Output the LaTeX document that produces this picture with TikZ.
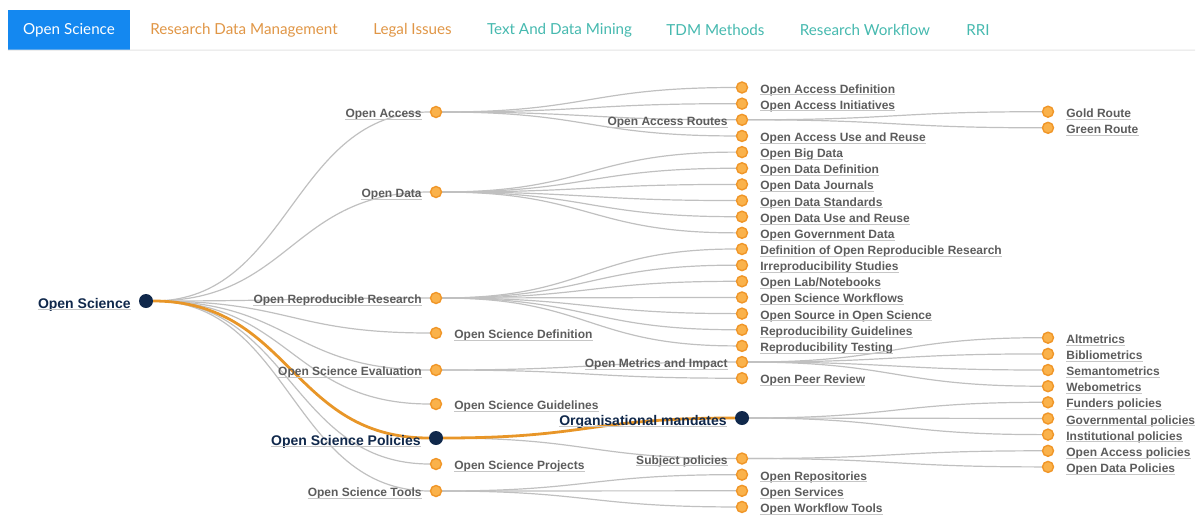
\documentclass[tikz,border=0pt]{standalone}
\usepackage{fontspec}
\setmainfont{Liberation Sans}
\newfontfamily\tabfont{Lato}
\usetikzlibrary{positioning,backgrounds}

\definecolor{tabblue}{RGB}{20,136,240}
\definecolor{taborange}{RGB}{224,150,70}
\definecolor{tabteal}{RGB}{70,185,175}
\definecolor{lblgray}{RGB}{92,92,92}
\definecolor{navy}{RGB}{16,40,75}
\definecolor{linkgray}{RGB}{192,192,192}
\definecolor{dotfill}{RGB}{250,178,75}
\definecolor{dotline}{RGB}{240,150,40}
\definecolor{hiorange}{RGB}{232,150,40}

\tikzset{
  dot/.style={circle, draw=dotline, fill=dotfill, line width=1.4pt, inner sep=0pt, minimum size=11pt},
  hub/.style={circle, fill=navy, inner sep=0pt, minimum size=14pt},
  undl/.style={draw=gray!45, line width=0.8pt},
  txt/.style={font=\bfseries\fontsize{12}{14}\selectfont, text=lblgray, inner xsep=0pt, inner ysep=0.5pt,
    text height=12pt, text depth=1pt,
    append after command={(\tikzlastnode.south west) edge[undl] (\tikzlastnode.south east)}},
  hubtxt/.style={txt, font=\bfseries\fontsize{14}{16}\selectfont, text=navy, text height=15pt},
  link/.style={draw=linkgray, line width=1.2pt},
  hilite/.style={draw=hiorange, line width=2.8pt},
  lone/.style={to path={(\tikztostart) .. controls +(145,0) and +(-145,0) .. (\tikztotarget)}},
  ltwo/.style={to path={(\tikztostart) .. controls +(153,0) and +(-153,0) .. (\tikztotarget)}},
  tabon/.style={fill=tabblue, text=white, font=\tabfont\fontsize{15.2}{17}\selectfont, minimum width=122pt, minimum height=40pt},
  tabtxt/.style={font=\tabfont\fontsize{15.2}{17}\selectfont}
}

\begin{document}
\begin{tikzpicture}[x=1pt, y=-1pt]
    \useasboundingbox (0,0) rectangle (1203,515);

    % Tabs
    \node[tabon] (tos) at (69,30) {Open Science};
    \node[tabtxt, text=taborange] (trdm) at (244,30) {Research Data Management};
    \node[tabtxt, text=taborange] (tli) at (412.5,30) {Legal Issues};
    \node[tabtxt, text=tabteal] (ttdm) at (559.5,30) {Text And Data Mining};
    \node[tabtxt, text=tabteal] (tmeth) at (715.5,30) {TDM Methods};
    \node[tabtxt, text=tabteal] (trw) at (865,30) {Research Workflow};
    \node[tabtxt, text=tabteal] (trri) at (978,30) {RRI};
    \coordinate (barend) at (1195,50);
    \draw[gray!22, line width=1pt] (tos.south west) -- (barend);

    % Root
    \node[hub] (os) at (146,301) {};
    \node[hubtxt, left=8pt of os] (ost0) {Open Science};

    % Level 1
    \node[dot] (oa) at (436,112) {};
    \node[txt, left=8pt of oa] (oat) {Open Access};
    \node[dot] (od) at (436,192) {};
    \node[txt, left=8pt of od] (odt) {Open Data};
    \node[dot] (orr) at (436,298) {};
    \node[txt, left=8pt of orr] (orrt) {Open Reproducible Research};
    \node[dot] (osd) at (436,333) {};
    \node[txt, right=12pt of osd] (osdt) {Open Science Definition};
    \node[dot] (ose) at (436,370) {};
    \node[txt, left=8pt of ose] (oset) {Open Science Evaluation};
    \node[dot] (osg) at (436,404) {};
    \node[txt, right=12pt of osg] (osgt) {Open Science Guidelines};
    \node[hub] (osp) at (436,438) {};
    \node[hubtxt, left=8pt of osp] (ospt) {Open Science Policies};
    \node[dot] (ospr) at (436,464) {};
    \node[txt, right=12pt of ospr] (osprt) {Open Science Projects};
    \node[dot] (ost) at (436,491) {};
    \node[txt, left=8pt of ost] (ostt) {Open Science Tools};

    % Level 2: Open Access
    \node[dot] (oad) at (742,87.5) {};
    \node[txt, right=12pt of oad] (oadt) {Open Access Definition};
    \node[dot] (oai) at (742,103.65) {};
    \node[txt, right=12pt of oai] (oait) {Open Access Initiatives};
    \node[dot] (oar) at (742,119.8) {};
    \node[txt, left=8pt of oar] (oart) {Open Access Routes};
    \node[dot] (oau) at (742,135.95) {};
    \node[txt, right=12pt of oau] (oaut) {Open Access Use and Reuse};

    % Level 2: Open Data
    \node[dot] (obd) at (742,152.1) {};
    \node[txt, right=12pt of obd] (obdt) {Open Big Data};
    \node[dot] (odd) at (742,168.25) {};
    \node[txt, right=12pt of odd] (oddt) {Open Data Definition};
    \node[dot] (odj) at (742,184.4) {};
    \node[txt, right=12pt of odj] (odjt) {Open Data Journals};
    \node[dot] (ods) at (742,200.55) {};
    \node[txt, right=12pt of ods] (odst) {Open Data Standards};
    \node[dot] (odu) at (742,216.7) {};
    \node[txt, right=12pt of odu] (odut) {Open Data Use and Reuse};
    \node[dot] (ogd) at (742,232.85) {};
    \node[txt, right=12pt of ogd] (ogdt) {Open Government Data};

    % Level 2: Open Reproducible Research
    \node[dot] (dorr) at (742,249) {};
    \node[txt, right=12pt of dorr] (dorrt) {Definition of Open Reproducible Research};
    \node[dot] (irs) at (742,265.15) {};
    \node[txt, right=12pt of irs] (irst) {Irreproducibility Studies};
    \node[dot] (oln) at (742,281.3) {};
    \node[txt, right=12pt of oln] (olnt) {Open Lab/Notebooks};
    \node[dot] (osw) at (742,297.45) {};
    \node[txt, right=12pt of osw] (oswt) {Open Science Workflows};
    \node[dot] (oso) at (742,313.6) {};
    \node[txt, right=12pt of oso] (osot) {Open Source in Open Science};
    \node[dot] (rg) at (742,329.75) {};
    \node[txt, right=12pt of rg] (rgt) {Reproducibility Guidelines};
    \node[dot] (rt) at (742,345.9) {};
    \node[txt, right=12pt of rt] (rtt) {Reproducibility Testing};

    % Level 2: Open Science Evaluation
    \node[dot] (omi) at (742,362.05) {};
    \node[txt, left=8pt of omi] (omit) {Open Metrics and Impact};
    \node[dot] (opr) at (742,378.2) {};
    \node[txt, right=12pt of opr] (oprt) {Open Peer Review};

    % Level 2: Open Science Policies
    \node[hub] (om) at (742,418) {};
    \node[hubtxt, left=8pt of om] (omt) {Organisational mandates};
    \node[dot] (sp) at (742,458.5) {};
    \node[txt, left=8pt of sp] (spt) {Subject policies};

    % Level 2: Open Science Tools
    \node[dot] (orp) at (742,474.65) {};
    \node[txt, right=12pt of orp] (orpt) {Open Repositories};
    \node[dot] (osv) at (742,490.8) {};
    \node[txt, right=12pt of osv] (osvt) {Open Services};
    \node[dot] (owt) at (742,506.95) {};
    \node[txt, right=12pt of owt] (owtt) {Open Workflow Tools};

    % Level 3
    \node[dot] (gr) at (1048,111.7) {};
    \node[txt, right=12pt of gr] (grt) {Gold Route};
    \node[dot] (grn) at (1048,127.8) {};
    \node[txt, right=12pt of grn] (grnt) {Green Route};
    \node[dot] (alt) at (1048,337.7) {};
    \node[txt, right=12pt of alt] (altt) {Altmetrics};
    \node[dot] (bib) at (1048,353.9) {};
    \node[txt, right=12pt of bib] (bibt) {Bibliometrics};
    \node[dot] (sem) at (1048,370) {};
    \node[txt, right=12pt of sem] (semt) {Semantometrics};
    \node[dot] (web) at (1048,386.2) {};
    \node[txt, right=12pt of web] (webt) {Webometrics};
    \node[dot] (fp) at (1048,402.3) {};
    \node[txt, right=12pt of fp] (fpt) {Funders policies};
    \node[dot] (gp) at (1048,418.5) {};
    \node[txt, right=12pt of gp] (gpt) {Governmental policies};
    \node[dot] (ip) at (1048,434.6) {};
    \node[txt, right=12pt of ip] (ipt) {Institutional policies};
    \node[dot] (oap) at (1048,450.8) {};
    \node[txt, right=12pt of oap] (oapt) {Open Access policies};
    \node[dot] (odp) at (1048,466.9) {};
    \node[txt, right=12pt of odp] (odpt) {Open Data Policies};

    % Links
    \begin{scope}[on background layer]
        \path[link] (os) edge[link, lone] (oa) edge[link, lone] (od) edge[link, lone] (orr)
            edge[link, lone] (osd) edge[link, lone] (ose) edge[link, lone] (osg)
            edge[link, lone] (osp) edge[link, lone] (ospr) edge[link, lone] (ost);
        \path (oa) edge[link, ltwo] (oad) edge[link, ltwo] (oai) edge[link, ltwo] (oar) edge[link, ltwo] (oau);
        \path (od) edge[link, ltwo] (obd) edge[link, ltwo] (odd) edge[link, ltwo] (odj)
            edge[link, ltwo] (ods) edge[link, ltwo] (odu) edge[link, ltwo] (ogd);
        \path (orr) edge[link, ltwo] (dorr) edge[link, ltwo] (irs) edge[link, ltwo] (oln)
            edge[link, ltwo] (osw) edge[link, ltwo] (oso) edge[link, ltwo] (rg) edge[link, ltwo] (rt);
        \path (ose) edge[link, ltwo] (omi) edge[link, ltwo] (opr);
        \path (osp) edge[link, ltwo] (om) edge[link, ltwo] (sp);
        \path (ost) edge[link, ltwo] (orp) edge[link, ltwo] (osv) edge[link, ltwo] (owt);
        \path (oar) edge[link, ltwo] (gr) edge[link, ltwo] (grn);
        \path (omi) edge[link, ltwo] (alt) edge[link, ltwo] (bib) edge[link, ltwo] (sem) edge[link, ltwo] (web);
        \path (om) edge[link, ltwo] (fp) edge[link, ltwo] (gp) edge[link, ltwo] (ip);
        \path (sp) edge[link, ltwo] (oap) edge[link, ltwo] (odp);
        % highlighted path
        \path (os) edge[hilite, lone] (osp);
        \path (osp) edge[hilite, ltwo] (om);
    \end{scope}
\end{tikzpicture}
\end{document}
